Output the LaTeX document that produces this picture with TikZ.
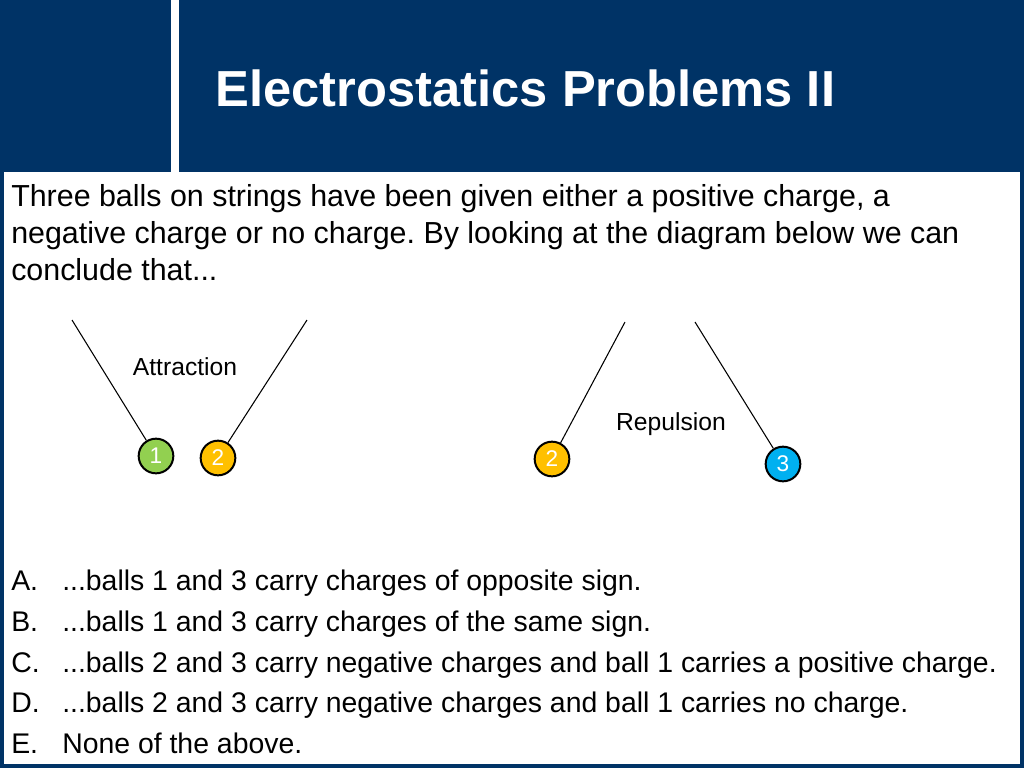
\documentclass[tikz,border=0pt]{standalone}
\usepackage{fontspec}
\setmainfont{Liberation Sans}
\frenchspacing
\definecolor{navy}{HTML}{003366}
\definecolor{ballgreen}{HTML}{92D050}
\definecolor{ballgold}{HTML}{FFC000}
\definecolor{ballblue}{HTML}{00B0F0}
\tikzset{
    ball/.style={circle, draw=black, line width=1.5pt, minimum size=26pt, inner sep=0pt, text=white, font=\fontsize{17}{17}\selectfont},
    body/.style={anchor=base west, inner sep=0pt, font=\fontsize{21.3}{24}\selectfont},
    quest/.style={anchor=base west, inner sep=0pt, font=\fontsize{22.8}{24}\selectfont},
    small/.style={inner sep=0pt, font=\fontsize{18.5}{20}\selectfont},
}
\begin{document}
\begin{tikzpicture}[x=0.75pt,y=-0.75pt]
    \useasboundingbox (0,0) rectangle (1024,768);
    \fill[navy] (0,0) rectangle (1024,768);
    \fill[white] (4,172) rectangle (1020,764);
    \fill[white] (171,0) rectangle (179,172);
    \node[anchor=west, text=white, font=\fontsize{38}{38}\selectfont\bfseries] (title) at (211,88) {Electrostatics Problems II};
    % question
    \node[quest] (q1) at (11,206) {Three balls on strings have been given either a positive charge, a};
    \node[quest] (q2) at (11,243) {negative charge or no charge. By looking at the diagram below we can};
    \node[quest] (q3) at (11,280) {conclude that...};
    % balls
    \node[ball, fill=ballgreen] (b1) at (156,456) {1};
    \node[ball, fill=ballgold] (b2) at (218,458) {2};
    \node[ball, fill=ballgold] (b2r) at (552,459) {2};
    \node[ball, fill=ballblue] (b3) at (783,464) {3};
    \coordinate (t1) at (72,320);
    \coordinate (t2) at (307,320);
    \coordinate (t3) at (625,322);
    \coordinate (t4) at (695,322);
    \draw[line width=0.8pt] (t1) -- (b1);
    \draw[line width=0.8pt] (t2) -- (b2);
    \draw[line width=0.8pt] (t3) -- (b2r);
    \draw[line width=0.8pt] (t4) -- (b3);
    \node[small] (attr) at (185,367) {Attraction};
    \node[small] (rep) at (671,424) {Repulsion};
    % answers
    \foreach \y/\l/\t in {590/A/{...balls 1 and 3 carry charges of opposite sign.},
        631/B/{...balls 1 and 3 carry charges of the same sign.},
        672/C/{...balls 2 and 3 carry negative charges and ball 1 carries a positive charge.},
        712/D/{...balls 2 and 3 carry negative charges and ball 1 carries no charge.},
        753/E/{None of the above.}} {
        \node[body] (lab\l) at (11,\y) {\l.};
        \node[body] (ans\l) at (62,\y) {\t};
    }
\end{tikzpicture}
\end{document}
